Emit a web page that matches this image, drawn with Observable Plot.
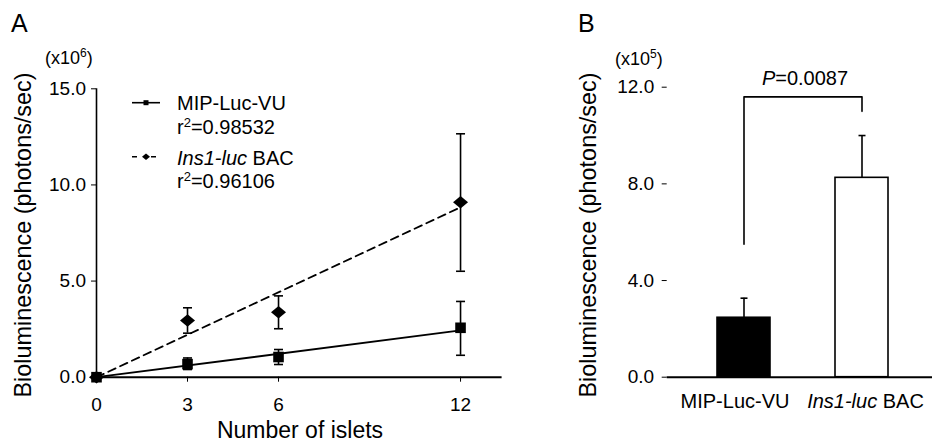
<!DOCTYPE html>
<html><head><meta charset="utf-8">
<script src="https://cdn.jsdelivr.net/npm/d3@7"></script>
<script src="https://cdn.jsdelivr.net/npm/@observablehq/plot@0.6"></script>
<style>
body{margin:0;background:#fff;}
#wrap{position:relative;width:932px;height:446px;overflow:hidden;font-family:"Liberation Sans",Arial,sans-serif;}
#pa,#pb{position:absolute;top:0;}
#pa{left:0;} #pb{left:600px;}
#ov{position:absolute;left:0;top:0;pointer-events:none;}
</style></head>
<body>
<div id="wrap"><div id="pa"></div><div id="pb"></div>
<svg id="ov" width="932" height="446" font-family="Liberation Sans, Arial, sans-serif" fill="black"></svg>
</div>
<script>
// ---- Panel A data ----
const islets = [0, 3, 6, 12];
const mipMean = [0, 0.68, 1.05, 2.57];
const mipLo   = [0, 0.40, 0.66, 1.14];
const mipHi   = [0, 1.00, 1.44, 3.94];
const insMean = [0, 2.95, 3.38, 9.10];
const insLo   = [0, 2.29, 2.52, 5.51];
const insHi   = [0, 3.61, 4.23, 12.66];
const fitX    = [0, 12];
const mipFit  = [0, 2.43];
const insFit  = [0, 8.84];
const xTicksA = [0, 3, 6, 12];
const yTicksA = [0, 5, 10, 15];
const seriesNames = ["MIP-Luc-VU", "Ins1-luc BAC"];
const r2Values = ["0.98532", "0.96106"];
// ---- Panel B data ----
const groups  = ["MIP-Luc-VU", "Ins1-luc BAC"];
const barMean = [2.46, 8.25];
const barErr  = [3.27, 10.0];
const yTicksB = [0, 4, 8, 12];
const bracketY = [5.5, 11.6, 11.6, 11.0];
const pValue = "0.0087";

const font = "Liberation Sans, Arial, sans-serif";
const rows = (m, lo, hi) => islets.map((x, i) => ({x, y: m[i], lo: lo[i], hi: hi[i]}));
const mipRows = rows(mipMean, mipLo, mipHi);
const insRows = rows(insMean, insLo, insHi);
const fitRows = f => fitX.map((x, i) => ({x, y: f[i]}));
const errRows = [...mipRows, ...insRows].filter(d => d.hi > d.lo);

const cap = w => ({draw(ctx) { ctx.moveTo(-w, 0); ctx.lineTo(w, 0); }});
const sq = h => ({draw(ctx) { ctx.moveTo(-h, -h); ctx.lineTo(h, -h); ctx.lineTo(h, h); ctx.lineTo(-h, h); ctx.closePath(); }});
const rhomb = (w, h) => ({draw(ctx) { ctx.moveTo(-w, 0); ctx.lineTo(0, -h); ctx.lineTo(w, 0); ctx.lineTo(0, h); ctx.closePath(); }});

const pa = Plot.plot({
  width: 600, height: 446,
  marginLeft: 96, marginRight: 98.4, marginTop: 88.3, marginBottom: 69.3,
  style: {fontFamily: font, fontSize: "19px", color: "black", background: "transparent"},
  x: {domain: [0, 13.37], ticks: xTicksA, tickSize: 5, tickPadding: 15, label: null, tickFormat: d => String(d)},
  y: {domain: [0, 15], ticks: yTicksA, tickSize: 5, tickPadding: 5.5, label: null, tickFormat: d => d.toFixed(1)},
  marks: [
    Plot.ruleX([0], {stroke: "black", strokeWidth: 1.6}),
    Plot.ruleY([0], {stroke: "black", strokeWidth: 2}),
    Plot.line(fitRows(mipFit), {x: "x", y: "y", stroke: "black", strokeWidth: 1.8}),
    Plot.line(fitRows(insFit), {x: "x", y: "y", stroke: "black", strokeWidth: 1.8, strokeDasharray: "8,5"}),
    Plot.ruleX(errRows, {x: "x", y1: "lo", y2: "hi", stroke: "black", strokeWidth: 1.6}),
    Plot.dot(errRows, {x: "x", y: "hi", symbol: cap(4.5), fill: "none", stroke: "black", strokeWidth: 1.6}),
    Plot.dot(errRows, {x: "x", y: "lo", symbol: cap(4.5), fill: "none", stroke: "black", strokeWidth: 1.6}),
    Plot.dot(mipRows, {x: "x", y: "y", symbol: sq(5.3), fill: "black", stroke: "none"}),
    Plot.dot(insRows, {x: "x", y: "y", symbol: rhomb(7.5, 6.3), fill: "black", stroke: "none"})
  ]
});
document.getElementById("pa").append(pa);

const barRows = groups.map((g, i) => ({g, v: barMean[i], e: barErr[i]}));
const bracketRows = bracketY.map((y, i) => ({g: groups[i < 2 ? 0 : 1], y}));

const pb = Plot.plot({
  width: 332, height: 446,
  marginLeft: 66.7, marginRight: 0, marginTop: 86.7, marginBottom: 69.3,
  style: {fontFamily: font, fontSize: "19px", color: "black", background: "transparent"},
  x: {type: "band", domain: groups, range: [117.2, 289], paddingInner: 0.554, paddingOuter: 0, align: 0, tickSize: 0, tickPadding: 17, label: null},
  y: {domain: [0, 12], ticks: yTicksB, tickSize: 5, tickPadding: 8, label: null, tickFormat: d => d.toFixed(1)},
  color: {domain: groups, range: ["black", "white"]},
  marks: [
    Plot.ruleX([0], {x: () => 0, stroke: "none"}),
    Plot.barY(barRows, {x: "g", y: "v", fill: "g", stroke: "black", strokeWidth: 1.6}),
    Plot.ruleX(barRows, {x: "g", y1: "v", y2: "e", stroke: "black", strokeWidth: 1.6}),
    Plot.dot(barRows, {x: "g", y: "e", symbol: cap(3.5), fill: "none", stroke: "black", strokeWidth: 1.6}),
    Plot.line(bracketRows, {x: "g", y: "y", stroke: "black", strokeWidth: 1.6}),
    Plot.ruleY([0], {stroke: "black", strokeWidth: 2})
  ]
});
document.getElementById("pb").append(pb);

pb.querySelectorAll("text").forEach(t => {
  if (t.textContent === "Ins1-luc BAC") {
    t.textContent = "";
    const a = document.createElementNS("http://www.w3.org/2000/svg", "tspan");
    a.setAttribute("font-style", "italic"); a.textContent = "Ins1-luc";
    const b = document.createElementNS("http://www.w3.org/2000/svg", "tspan");
    b.textContent = " BAC";
    t.append(a, b);
    t.setAttribute("font-size", "20");
    t.setAttribute("dx", "3.5");
  } else if (t.textContent === "MIP-Luc-VU") {
    t.setAttribute("font-size", "20");
    t.setAttribute("dx", "-9");
  }
});

// overlay: panel letters, units, axis titles, legend, p-value
const ov = d3.select("#ov");
const txt = (x, y, s, size, anchor = "start") =>
  ov.append("text").attr("x", x).attr("y", y).attr("font-size", size).attr("text-anchor", anchor).text(s);
txt(11, 32, "A", 25);
txt(578, 32, "B", 25);
const unit = (x, y, e) => {
  const t = ov.append("text").attr("x", x).attr("y", y).attr("font-size", 18);
  t.append("tspan").text("(x10");
  t.append("tspan").attr("font-size", 12).attr("dy", -7).text(e);
  t.append("tspan").attr("dy", 7).text(")");
};
unit(45, 64, "6");
unit(615, 65, "5");
ov.append("text").attr("transform", "translate(30.5,235) rotate(-90)").attr("text-anchor", "middle")
  .attr("font-size", 23.4).text("Bioluminescence (photons/sec)");
ov.append("text").attr("transform", "translate(596,235) rotate(-90)").attr("text-anchor", "middle")
  .attr("font-size", 23.4).text("Bioluminescence (photons/sec)");
txt(300, 438, "Number of islets", 23, "middle");
const p = ov.append("text").attr("x", 805).attr("y", 85).attr("font-size", 20).attr("text-anchor", "middle");
p.append("tspan").attr("font-style", "italic").text("P");
p.append("tspan").text("=" + pValue);

// legend
ov.append("line").attr("x1", 132).attr("x2", 160).attr("y1", 102.7).attr("y2", 102.7).attr("stroke", "black").attr("stroke-width", 1.6);
ov.append("rect").attr("x", 143.5).attr("y", 100.2).attr("width", 5).attr("height", 5);
ov.append("line").attr("x1", 132).attr("x2", 160).attr("y1", 156.7).attr("y2", 156.7).attr("stroke", "black").attr("stroke-width", 1.6).attr("stroke-dasharray", "5,4.5,0,9.5,5");
ov.append("path").attr("d", "M142,156.7L146,153.4L150,156.7L146,160Z");
txt(177, 110, seriesNames[0], 20);
const l2 = ov.append("text").attr("x", 177).attr("y", 165).attr("font-size", 20);
l2.append("tspan").attr("font-style", "italic").text(seriesNames[1].split(" ")[0]);
l2.append("tspan").text(" " + seriesNames[1].split(" ")[1]);
[134, 188.3].forEach((y, i) => {
  const t = ov.append("text").attr("x", 177).attr("y", y).attr("font-size", 20);
  t.append("tspan").text("r");
  t.append("tspan").attr("font-size", 13).attr("dy", -7).text("2");
  t.append("tspan").attr("dy", 7).text("=" + r2Values[i]);
});
</script>
</body></html>
